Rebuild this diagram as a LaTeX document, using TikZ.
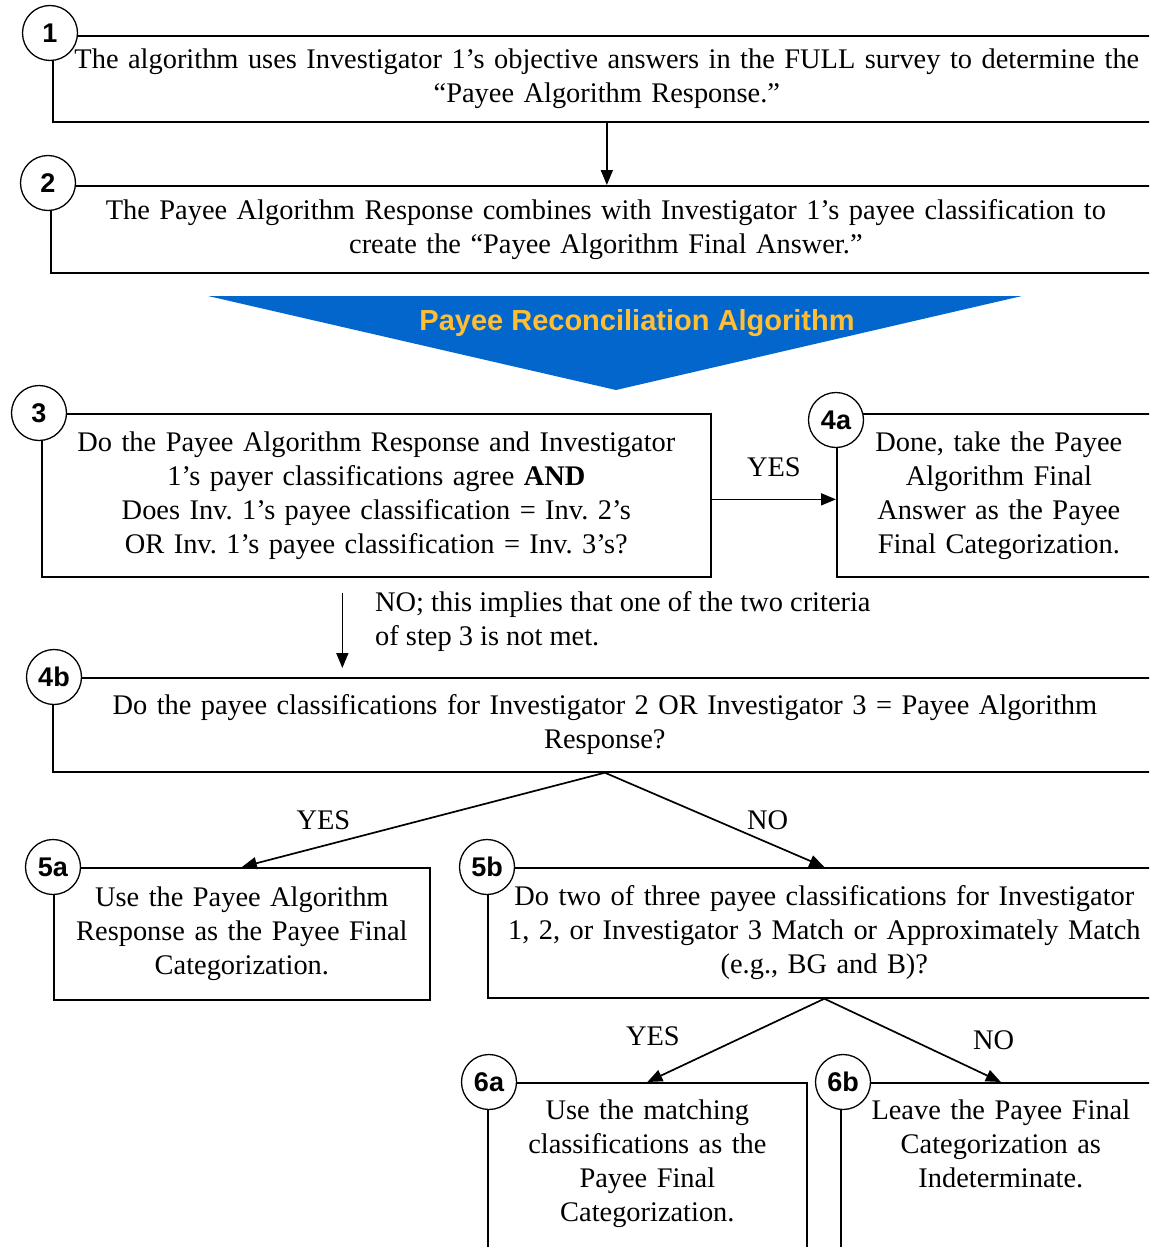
\documentclass[tikz,border=0pt]{standalone}
\usepackage{fontspec}
\setmainfont{Liberation Serif}
\setsansfont{Liberation Sans}
\usetikzlibrary{arrows.meta,positioning}

\definecolor{bannerblue}{RGB}{3,102,204}
\definecolor{bannergold}{RGB}{255,190,51}

\tikzset{
  box/.style={draw, line width=1.7pt, anchor=north west, align=center,
    inner sep=0pt, font=\fontsize{28.4}{34}\selectfont\frenchspacing},
  openbox/.style={box, text height=20pt, text depth=220pt, inner ysep=17pt},
  num/.style={circle, draw, fill=white, line width=1.3pt, minimum size=55pt,
    inner sep=0pt, font=\sffamily\bfseries\fontsize{27}{27}\selectfont},
  lbl/.style={font=\fontsize{28.4}{34}\selectfont\frenchspacing, inner sep=0pt},
  arr/.style={-{Triangle[length=15pt,width=12pt]}, line width=1.7pt}
}

\begin{document}
\begin{tikzpicture}[x=1pt,y=-1pt]
  \useasboundingbox (0,0) rectangle (1149,1247);
  \clip (0,0) rectangle (1149,1247);

  % steps 1 and 2
  \node[box, minimum width=1108pt, minimum height=86pt, text width=1088pt] (b1) at (52,35)
    {The algorithm uses Investigator 1’s objective answers in the FULL survey to determine the\\“Payee Algorithm Response.”};
  \node[box, minimum width=1110pt, minimum height=87pt, text width=1090pt] (b2) at (50,185)
    {The Payee Algorithm Response combines with Investigator 1’s payee classification to\\create the “Payee Algorithm Final Answer.”};

  % banner
  \fill[bannerblue] (208,296) -- (1022,296) -- (616,390) -- cycle;
  \node[font=\sffamily\bfseries\fontsize{29}{34}\selectfont, text=bannergold, inner sep=0pt] (banner) at (637,323)
    {Payee Reconciliation Algorithm};

  % step 3 and its outcomes
  \node[box, minimum width=669pt, minimum height=163pt, text width=649pt] (b3) at (41,413)
    {Do the Payee Algorithm Response and Investigator\\1’s payer classifications agree \textbf{AND}\\Does Inv. 1’s payee classification = Inv. 2’s\\OR Inv. 1’s payee classification = Inv. 3’s?};
  \node[box, minimum width=324pt, minimum height=163pt, text width=304pt] (b4a) at (836,413)
    {Done, take the Payee\\Algorithm Final\\Answer as the Payee\\Final Categorization.};
  \node[box, minimum width=1104pt, minimum height=94pt, text width=1084pt] (b4b) at (52,677)
    {Do the payee classifications for Investigator 2 OR Investigator 3 = Payee Algorithm\\Response?};

  % step 5
  \node[box, minimum width=376pt, minimum height=132pt, text width=356pt] (b5a) at (53,867)
    {Use the Payee Algorithm\\Response as the Payee Final\\Categorization.};
  \node[box, minimum width=673pt, minimum height=130pt, text width=653pt] (b5b) at (487,867)
    {Do two of three payee classifications for Investigator\\1, 2, or Investigator 3 Match or Approximately Match\\(e.g., BG and B)?};

  % step 6
  \node[openbox, minimum width=319pt, text width=299pt] (b6a) at (487,1082)
    {Use the matching\\classifications as the\\Payee Final\\Categorization.};
  \node[openbox, minimum width=320pt, text width=300pt] (b6b) at (840,1082)
    {Leave the Payee Final\\Categorization as\\Indeterminate.};

  % connectors
  \draw[arr] (b1.south) -- (b1.south |- b2.north);

  \coordinate (y3) at ([yshift=-4pt]b3.east);
  \draw[arr] (y3) -- (y3 -| b4a.west) node[lbl, midway, yshift=32pt] (yes3) {YES};

  \coordinate (n3) at ([xshift=-34pt,yshift=-15pt]b3.south);
  \draw[arr, shorten >=9pt] (n3) -- (n3 |- b4b.north)
    node[lbl, pos=0.34, anchor=west, xshift=32pt, align=left] (no3)
    {NO; this implies that one of the two criteria\\of step 3 is not met.};

  \draw[arr] (b4b.south) -- (b5a.north) node[lbl, midway, xshift=-100pt] (yes4) {YES};
  \draw[arr] (b4b.south) -- (b5b.north) node[lbl, midway, xshift=53pt] (no4) {NO};

  \draw[arr] (b5b.south) -- (b6a.north) node[lbl, midway, xshift=-83pt, yshift=4pt] (yes5) {YES};
  \draw[arr] (b5b.south) -- (b6b.north) node[lbl, midway, xshift=81pt] (no5) {NO};

  % step numbers
  \node[num] (n1) at ([xshift=-2pt,yshift=2pt]b1.north west) {1};
  \node[num] (n2) at ([xshift=-2pt,yshift=2pt]b2.north west) {2};
  \node[num] (n3c) at ([xshift=-2pt]b3.north west) {3};
  \node[num] (n4a) at ([yshift=-7pt]b4a.north west) {4a};
  \node[num] (n4b) at ([xshift=2pt]b4b.north west) {4b};
  \node[num] (n5a) at (b5a.north west) {5a};
  \node[num] (n5b) at (b5b.north west) {5b};
  \node[num] (n6a) at ([xshift=2pt]b6a.north west) {6a};
  \node[num] (n6b) at ([xshift=3pt]b6b.north west) {6b};
\end{tikzpicture}
\end{document}
